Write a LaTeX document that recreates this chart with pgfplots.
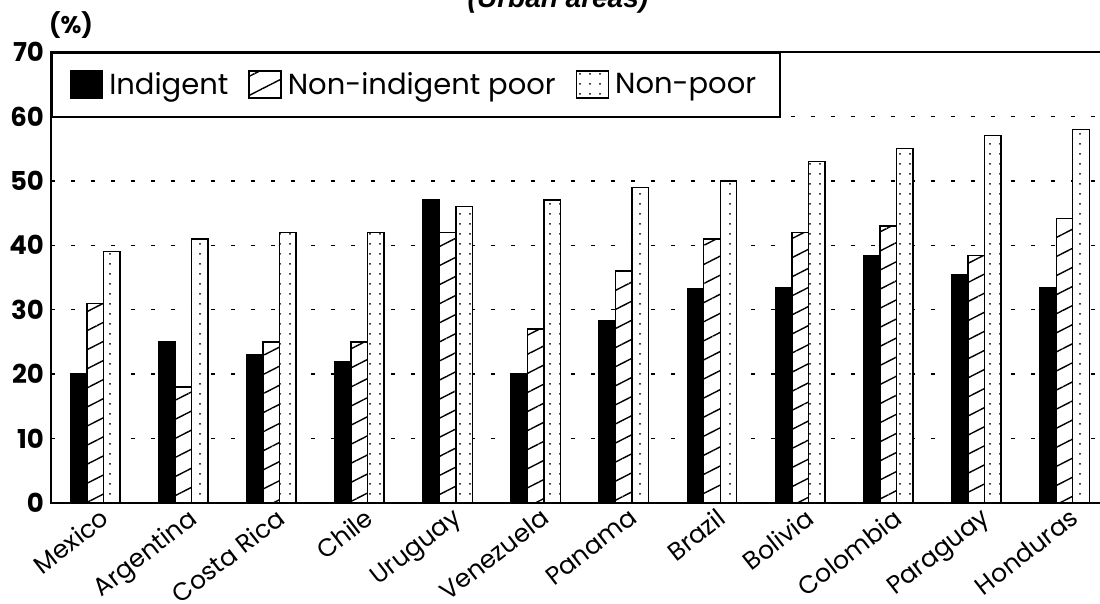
\documentclass[border=0pt]{standalone}
\usepackage{pgfplots}
\usepackage{pgfplotstable}
\pgfplotsset{compat=1.18}
\usepackage{fontspec}
\setmainfont{Poppins}
\newfontfamily\titlefont{Liberation Sans}
\usetikzlibrary{patterns.meta}

\pgfplotstableread{
x ind nip np
0 20 31 39
1 25 18 41
2 23 25 42
3 22 25 42
4 47 42 46
5 20 27 47
6 28.3 36 49
7 33.2 41 50
8 33.4 42 53
9 38.4 43 55
10 35.4 38.4 57
11 33.4 44.2 58
}\datatable

\begin{document}
\begin{tikzpicture}
\path[use as bounding box] (-25.5pt,-50.5pt) rectangle (524.5pt,251.5pt);
\clip (-25.5pt,-50.5pt) rectangle (524.5pt,251.5pt);
\begin{axis}[
  at={(0pt,0pt)}, anchor=south west,
  scale only axis, width=527pt, height=225.5pt,
  xmin=-0.5, xmax=11.46, ymin=0, ymax=70,
  ybar=0pt, bar width=8.25pt,
  xtick={0,...,11},
  xticklabels={Mexico,Argentina,Costa Rica,Chile,Uruguay,Venezuela,Panama,Brazil,Bolivia,Colombia,Paraguay,Honduras},
  xticklabel style={rotate=38, anchor=north east, font=\fontsize{12.5}{15}\selectfont, inner sep=1pt, yshift=-1.5pt, xshift=1.5pt},
  ytick={0,10,...,70},
  yticklabel style={font=\fontsize{13}{15}\selectfont\bfseries},
  /pgf/number format/assume math mode=true,
  major tick length=0pt,
  ymajorgrids,
  grid style={black, line width=0.7pt, dash pattern=on 2.2pt off 7.8pt},
  axis line style={line width=1pt},
  legend columns=3,
  legend style={at={(0,1)}, anchor=north west, draw=black, line width=0.9pt,
    fill=white, inner xsep=9pt, inner ysep=7.75pt,
    font=\fontsize{14.5}{16}\selectfont,
    nodes={inner xsep=3pt},
    /tikz/every even column/.append style={column sep=7pt}},
  legend image code/.code={\draw[#1, line width=0.7pt] (0pt,-6.5pt) rectangle (16pt,7pt);},
]
\addplot[draw=black, fill=black, line width=0.7pt] table[x=x, y=ind] {\datatable};
\addplot[draw=black, fill=white, line width=0.7pt,
  postaction={pattern={Lines[angle=27, distance=8.5pt, line width=0.7pt]}}] table[x=x, y=nip] {\datatable};
\addplot[draw=black, fill=white, line width=0.7pt,
  postaction={pattern={Dots[radius=0.5pt, distance=5pt]}}] table[x=x, y=np] {\datatable};
\legend{Indigent, Non-indigent poor, Non-poor}
\end{axis}
\node[anchor=base, font=\titlefont\fontsize{14}{16}\selectfont\bfseries\itshape] at (253.5pt,247.5pt) {(Urban areas)};
\node[anchor=base, font=\fontsize{12}{14}\selectfont\bfseries] at (10pt,234.5pt) {(\%)};
\end{tikzpicture}
\end{document}
